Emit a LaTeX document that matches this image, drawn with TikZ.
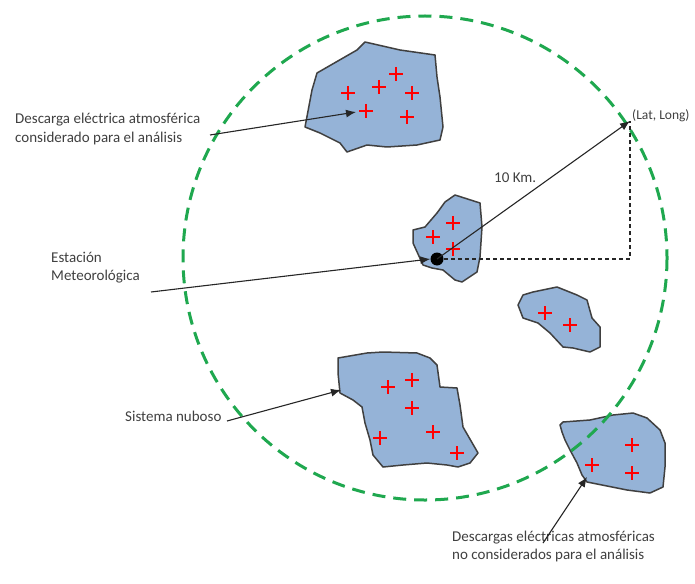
\documentclass[tikz,border=0pt]{standalone}
\usepackage{fontspec}
\setmainfont{Carlito}
\usetikzlibrary{arrows.meta}
\definecolor{cloudfill}{HTML}{95B3D7}
\definecolor{cloudline}{HTML}{404040}
\definecolor{circgreen}{HTML}{1FA84F}
\definecolor{txt}{HTML}{404040}
\tikzset{
  cloud/.style={fill=cloudfill, draw=cloudline, line width=1.5pt, line join=round},
  lbl/.style={text=txt, font=\fontsize{15}{18}\selectfont, anchor=base west, inner sep=0pt, align=left},
  arr/.style={draw=black!85, line width=1.1pt, -{Latex[length=10pt,width=8pt]}},
  guide/.style={draw=black!85, line width=1.1pt, dash pattern=on 4pt off 3pt},
  plusmark/.style={draw=red, line width=2.4pt},
}
\begin{document}
\begin{tikzpicture}[x=1pt,y=-1pt]
\useasboundingbox (0,0) rectangle (695,583);
\fill[white] (0,0) rectangle (695,583);

% cloud 1 (top)
\draw[cloud] (365,42) -- (400,50) -- (435,55) -- (437,77) -- (440,97) -- (443,127) -- (440,140) -- (417,145) -- (387,147) -- (367,145) -- (347,152) -- (340,143) -- (320,133) -- (305,127) -- (312,90) -- (317,73) -- (357,50) -- cycle;
\foreach \x/\y in {348/93,379/87,396/74,412/93,366/111,407/117} {\draw[plusmark, shift={(\x,\y)}] (-7,0) -- (7,0) (0,-7) -- (0,7);}

% cloud 2 (station)
\draw[cloud] (455,195) -- (480,203) -- (482,227) -- (480,257) -- (477,272) -- (462,282) -- (455,280) -- (443,270) -- (432,268) -- (423,265) -- (413,243) -- (413,230) -- (425,227) -- (437,213) -- (445,202) -- cycle;
\foreach \x/\y in {433/237,453/223,453/249} {\draw[plusmark, shift={(\x,\y)}] (-7,0) -- (7,0) (0,-7) -- (0,7);}

% cloud 3 (small right)
\draw[cloud] (523,295) -- (533,292) -- (557,287) -- (577,295) -- (587,300) -- (592,318) -- (600,327) -- (600,347) -- (590,352) -- (573,348) -- (563,347) -- (550,333) -- (538,323) -- (523,318) -- (518,305) -- cycle;
\foreach \x/\y in {545/313,570/325} {\draw[plusmark, shift={(\x,\y)}] (-7,0) -- (7,0) (0,-7) -- (0,7);}

% cloud 4 (sistema nuboso)
\draw[cloud] (338,358) -- (367,353) -- (383,352) -- (417,353) -- (430,358) -- (437,365) -- (440,387) -- (457,388) -- (460,405) -- (463,427) -- (478,453) -- (470,463) -- (458,467) -- (447,465) -- (427,463) -- (403,465) -- (383,467) -- (373,455) -- (370,440) -- (365,423) -- (362,407) -- (353,400) -- (340,393) -- (338,373) -- cycle;
\foreach \x/\y in {388/387,412/380,412/408,433/432,380/438,457/453} {\draw[plusmark, shift={(\x,\y)}] (-7,0) -- (7,0) (0,-7) -- (0,7);}

% cloud 5 (bottom right)
\draw[cloud] (560,425) -- (563,422) -- (590,420) -- (613,415) -- (633,413) -- (647,418) -- (660,430) -- (665,443) -- (665,467) -- (663,487) -- (650,493) -- (627,490) -- (617,488) -- (602,485) -- (587,482) -- (582,475) -- (577,463) -- (570,450) -- (565,440) -- (562,432) -- cycle;
\foreach \x/\y in {592/465,632/445,632/473} {\draw[plusmark, shift={(\x,\y)}] (-7,0) -- (7,0) (0,-7) -- (0,7);}

% dashed green circle
\draw[circgreen, line width=3pt, dash pattern=on 13pt off 8pt] (425,258) circle [radius=242];

% station and geometry
\coordinate (corner) at (630,259);
\coordinate (latlongpt) at (630,121);
\draw[guide] (437,259) -- (corner) -- (latlongpt);
\node[circle, fill=black, minimum size=13pt, inner sep=0pt] (station) at (437,259) {};
\draw[arr] (station.center) -- (latlongpt);

% labels
\node[lbl] (lbl1) at (15,142) {Descarga eléctrica atmosférica\\considerado para el análisis};
\node[lbl] (lbl2) at (51,280) {Estación\\Meteorológica};
\node[lbl] (lbl3) at (125,421) {Sistema nuboso};
\node[lbl] (lbl4) at (452,559) {Descargas eléctricas atmosféricas\\no considerados para el análisis};
\node[lbl] (km) at (494,182) {10 Km.};
\node[lbl, font=\fontsize{13.5}{16}\selectfont] (latlong) at (632,119) {(Lat, Long)};

% arrows
\coordinate (a1s) at (210,135);
\coordinate (a1e) at (356,112);
\draw[arr] (a1s) -- (a1e);
\coordinate (a2s) at (151,292);
\draw[arr] (a2s) -- (station.west);
\coordinate (a3s) at (227,421);
\coordinate (a3e) at (341,390);
\draw[arr] (a3s) -- (a3e);
\coordinate (a4s) at (543,543);
\coordinate (a4e) at (587,477);
\draw[arr] (a4s) -- (a4e);
\end{tikzpicture}
\end{document}
